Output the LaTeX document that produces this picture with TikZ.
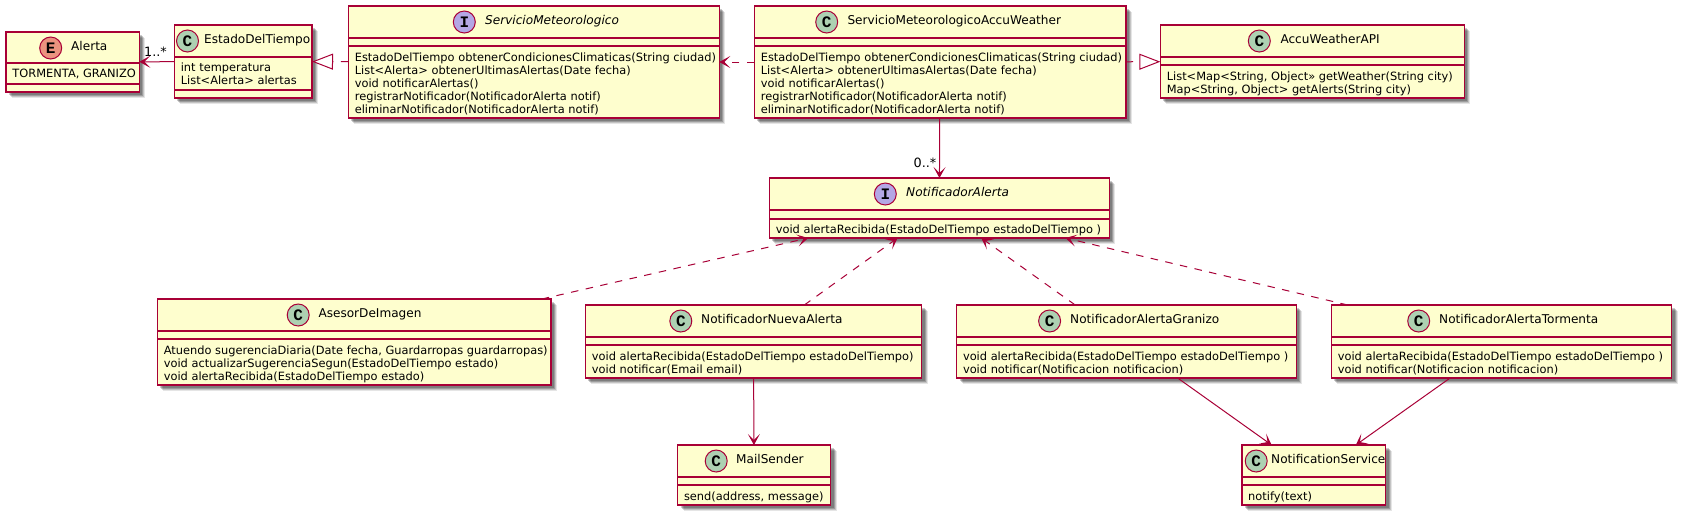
\documentclass[tikz,border=0pt]{standalone}
\usepackage{fontspec}
\setmainfont{DejaVu Sans}
\newfontfamily\spotfont{Liberation Mono}
\usepackage{tikz}
\usetikzlibrary{positioning}
\usetikzlibrary{arrows.meta}
\usetikzlibrary{shadows}
\usepackage{xcolor}
\definecolor{umlborder}{HTML}{A80036}
\definecolor{umlfill}{HTML}{FEFECE}
\definecolor{spotC}{HTML}{ADD1B2}
\definecolor{spotI}{HTML}{B4A7E5}
\definecolor{spotE}{HTML}{EB937F}

\tikzset{
  classbox/.style = {shape=rectangle, draw=umlborder, fill=umlfill, line width=1.6pt,
    inner sep=0pt, outer sep=0pt,
    drop shadow={shadow xshift=6pt, shadow yshift=-6pt, fill=black, opacity=.1},
    drop shadow={shadow xshift=5pt, shadow yshift=-5pt, fill=black, opacity=.15},
    drop shadow={shadow xshift=4pt, shadow yshift=-4pt, fill=black, opacity=.2},
    drop shadow={shadow xshift=3pt, shadow yshift=-3pt, fill=black, opacity=.2}},
  classspot/.style = {shape=circle, draw=umlborder, line width=1pt, minimum size=22pt,
    inner sep=0pt, font=\spotfont\bfseries\fontsize{16}{16}\selectfont},
  classtitle/.style = {anchor=west, inner sep=0pt, font=\fontsize{12.1}{14}\selectfont},
  classtext/.style = {anchor=north west, inner sep=0pt, align=left,
    font=\fontsize{11.4}{13}\selectfont},
  classline/.style = {draw=umlborder, line width=1.6pt},
  assoc/.style = {draw=umlborder, line width=1pt,
    -{Stealth[length=11pt,width=12pt,inset=6pt]}},
  depend/.style = {assoc, dash pattern=on 7.5pt off 7.5pt},
  realize/.style = {draw=umlborder, line width=1pt, dash pattern=on 7.5pt off 7.5pt,
    -{Triangle[open,length=21pt,width=16pt,fill=white,line width=1pt]}},
  multlabel/.style = {inner sep=0pt, font=\fontsize{12.8}{14}\selectfont}
}

% letter, name, left, top, right, bottom, spot x, title x, title
\newcommand{\umlclass}[9]{
  \node[classbox, minimum width={(#5-#3)*1pt}, minimum height={(#6-#4)*1pt}]
    (#2) at ({(#3+#5)/2},{(#4+#6)/2}) {};
  \node[classspot, fill=spot#1] (#2spot) at (#7,#4+16) {#1};
  \node[classtitle] (#2title) at (#8,#4+16) {\strut #9};
}
% name, first line, second line, text y, text
\newcommand{\umlbody}[5]{
  \draw[classline] (#1.west |- 0,#2) -- (#1.east |- 0,#2);
  \draw[classline] (#1.west |- 0,#3) -- (#1.east |- 0,#3);
  \node[classtext] (#1text) at ([xshift=6.3pt]#1.west |- 0,#4) {\strut #5};
}

\begin{document}
\begin{tikzpicture}[x=1pt, y=-1pt]
  \useasboundingbox (0,0) rectangle (1681,515);

  % top row
  \umlclass{E}{alerta}{6}{32}{139.3}{92}{50.7}{71}{Alerta}
  \umlbody{alerta}{63}{84}{68}{TORMENTA, GRANIZO}
  \umlclass{C}{estado}{174.3}{25}{312}{98}{187.5}{204}{EstadoDelTiempo}
  \umlbody{estado}{57}{90}{62}{int temperatura\\List<Alerta> alertas}
  \umlclass{I}{servicio}{348.3}{6}{719.3}{118}{464.3}{485}{\textit{ServicioMeteorologico}}
  \umlbody{servicio}{38}{46}{52}{EstadoDelTiempo obtenerCondicionesClimaticas(String ciudad)\\
    List<Alerta> obtenerUltimasAlertas(Date fecha)\\void notificarAlertas()\\
    registrarNotificador(NotificadorAlerta notif)\\eliminarNotificador(NotificadorAlerta notif)}
  \umlclass{C}{accu}{754.3}{6}{1125.7}{118}{826.7}{847.3}{ServicioMeteorologicoAccuWeather}
  \umlbody{accu}{38}{46}{52}{EstadoDelTiempo obtenerCondicionesClimaticas(String ciudad)\\
    List<Alerta> obtenerUltimasAlertas(Date fecha)\\void notificarAlertas()\\
    registrarNotificador(NotificadorAlerta notif)\\eliminarNotificador(NotificadorAlerta notif)}
  \umlclass{C}{api}{1160.3}{25}{1464.3}{98}{1259.3}{1280.3}{AccuWeatherAPI}
  \umlbody{api}{57}{65}{71}{List<Map<String, Object>> getWeather(String city)\\
    Map<String, Object> getAlerts(String city)}

  % middle
  \umlclass{I}{notifalerta}{769.3}{178}{1109.3}{238}{885.3}{906}{\textit{NotificadorAlerta}}
  \umlbody{notifalerta}{210}{219}{224}{void alertaRecibida(EstadoDelTiempo estadoDelTiempo )}

  \umlclass{C}{asesor}{157.3}{299}{550.7}{385}{298.2}{318.3}{AsesorDeImagen}
  \umlbody{asesor}{331}{339}{345}{Atuendo sugerenciaDiaria(Date fecha, Guardarropas guardarropas)\\
    void actualizarSugerenciaSegun(EstadoDelTiempo estado)\\void alertaRecibida(EstadoDelTiempo estado)}
  \umlclass{C}{nueva}{585.4}{305}{921.6}{378}{680.8}{701}{NotificadorNuevaAlerta}
  \umlbody{nueva}{337}{345}{351}{void alertaRecibida(EstadoDelTiempo estadoDelTiempo)\\void notificar(Email email)}
  \umlclass{C}{granizo}{956.5}{305}{1296.3}{378}{1049.6}{1070}{NotificadorAlertaGranizo}
  \umlbody{granizo}{337}{345}{351}{void alertaRecibida(EstadoDelTiempo estadoDelTiempo )\\void notificar(Notificacion notificacion)}
  \umlclass{C}{tormenta}{1331.3}{305}{1671.6}{378}{1418.7}{1439}{NotificadorAlertaTormenta}
  \umlbody{tormenta}{337}{345}{351}{void alertaRecibida(EstadoDelTiempo estadoDelTiempo )\\void notificar(Notificacion notificacion)}

  % bottom row
  \umlclass{C}{mail}{677.5}{445}{830.6}{505}{716.2}{736}{MailSender}
  \umlbody{mail}{477}{485}{491}{send(address, message)}
  \umlclass{C}{notifservice}{1241.7}{445}{1385.6}{505}{1256.2}{1271}{NotificationService}
  \umlbody{notifservice}{477}{485}{491}{notify(text)}

  % connectors
  \draw[assoc] (estado) -- (alerta);
  \node[multlabel] (multalerta) at (155.5,52) {1..*};
  \draw[realize] (servicio) -- (estado);
  \draw[depend] (accu) -- (servicio);
  \draw[realize] (accu) -- (api);
  \draw[assoc] (accu) -- (notifalerta);
  \node[multlabel] (multnotif) at (925,163) {0..*};
  \draw[depend] (asesor) -- (notifalerta);
  \draw[depend] (nueva) -- (notifalerta);
  \draw[depend] (granizo) -- (notifalerta);
  \draw[depend] (tormenta) -- (notifalerta);
  \draw[assoc] (nueva) -- (mail);
  \draw[assoc] (granizo) -- (notifservice);
  \draw[assoc] (tormenta) -- (notifservice);
\end{tikzpicture}
\end{document}
